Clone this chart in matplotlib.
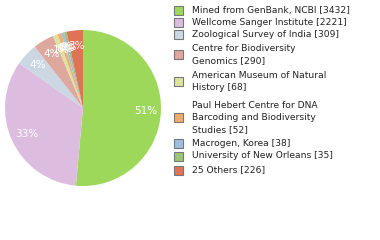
import matplotlib
matplotlib.use("Agg")
import matplotlib.pyplot as plt
from matplotlib.patches import Rectangle

labels = ["Mined from GenBank, NCBI [3432]",
          "Wellcome Sanger Institute [2221]",
          "Zoological Survey of India [309]",
          "Centre for Biodiversity\nGenomics [290]",
          "American Museum of Natural\nHistory [68]",
          "Paul Hebert Centre for DNA\nBarcoding and Biodiversity\nStudies [52]",
          "Macrogen, Korea [38]",
          "University of New Orleans [35]",
          "25 Others [226]"]
counts = [3432, 2221, 309, 290, 68, 52, 38, 35, 226]
colors = ["#9dd85b", "#dcbde0", "#cbd8e3", "#dea89f", "#dde39c",
          "#f0ad6e", "#9fbfe2", "#9dc477", "#e07258"]
# first text line of each legend entry, in pixels from the top of the image
legend_top = [10, 22.5, 34.5, 48.5, 75, 105, 143.5, 156, 170]

W, H = 380, 240
fig = plt.figure(figsize=(W / 100, H / 100), dpi=100)

ax = fig.add_axes([5 / W, 1 - 186 / H, 156 / W, 156 / H])
wedges, texts, pcts = ax.pie(counts, colors=colors, startangle=90, counterclock=False,
                             autopct=lambda p: "%d%%" % int(p), pctdistance=0.8,
                             wedgeprops=dict(linewidth=0),
                             textprops=dict(color="white", fontsize=7.5))
ax.set_xlim(-1, 1)
ax.set_ylim(-1, 1)
ax.set_aspect("equal")
ax.axis("off")

for lab, col, top in zip(labels, colors, legend_top):
    nlines = lab.count("\n") + 1
    ymid = top + (nlines - 1) * 12.5 / 2
    fig.patches.append(Rectangle((173.5 / W, 1 - (ymid + 4.5) / H), 9 / W, 9 / H,
                                 transform=fig.transFigure, facecolor=col,
                                 edgecolor="#777777", linewidth=0.8))
    fig.text(192 / W, 1 - ymid / H, lab, fontsize=6.6, color="#222222",
             va="center", ha="left", linespacing=1.4)

fig.savefig("out.png", dpi=100)
